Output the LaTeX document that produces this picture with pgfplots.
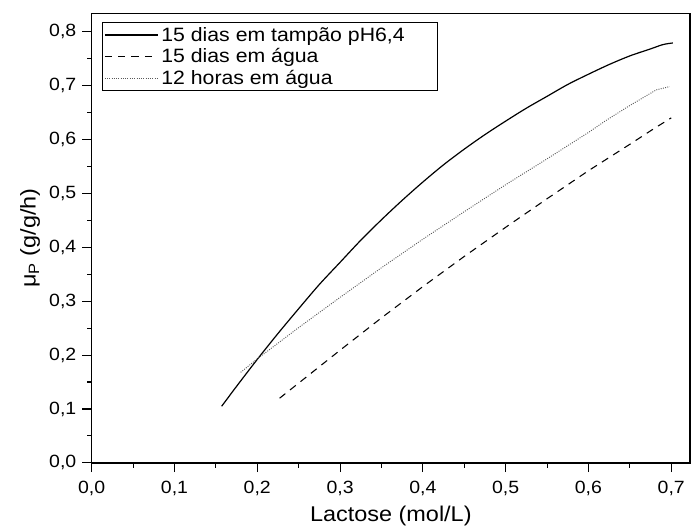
\documentclass[border=0pt]{standalone}
\usepackage{pgfplots}
\pgfplotsset{compat=1.18}
\usepackage{fontspec}
\setmainfont{Liberation Sans}[FakeStretch=1.1]
\begin{document}
\begin{tikzpicture}
\begin{axis}[
  scale only axis,
  width=449pt, height=337.4pt,
  xmin=0, xmax=0.7226, ymin=0, ymax=0.834,
  xtick={0,0.1,...,0.7}, ytick={0,0.1,...,0.8},
  minor x tick num=1, minor y tick num=1,
  xtick pos=left, ytick pos=left, tick align=outside,
  major tick length=7pt, minor tick length=3.5pt,
  tick style={black, line width=0.8pt},
  axis line style={line width=1pt},
  /pgf/number format/.cd, use comma, fixed, fixed zerofill, precision=1, assume math mode=true,
  /pgfplots/.cd,
  ticklabel style={font=\fontsize{13.3}{16}\selectfont},
  xticklabel style={yshift=-3pt},
  yticklabel style={xshift=-1pt},
  xlabel={Lactose (mol/L)}, ylabel={μ\textsubscript{P} (g/g/h)},
  label style={font=\fontsize{16}{19}\selectfont},
  xlabel style={yshift=-1pt},
  legend style={at={(0.0167,0.981)}, anchor=north west, draw=black, line width=0.8pt, inner sep=1.5pt, row sep=0pt, cells={anchor=west}, font=\fontsize{14.5}{17}\selectfont},
  legend image code/.code={\draw[#1] (0pt,0pt) -- (40pt,0pt);},
]
\addplot[black, line width=0.9pt, smooth] coordinates {
(0.157,0.105) (0.175,0.142) (0.2,0.192) (0.225,0.240) (0.25,0.286) (0.275,0.331) (0.3,0.372) (0.325,0.413) (0.35,0.451) (0.375,0.487) (0.4,0.521) (0.425,0.553) (0.45,0.582) (0.475,0.609) (0.5,0.634) (0.525,0.658) (0.55,0.680) (0.575,0.702) (0.6,0.721) (0.625,0.739) (0.65,0.755) (0.675,0.768) (0.69,0.776) (0.702,0.779)};
\addlegendentry{15 dias em tampão pH6,4\rule{21pt}{0pt}}
\addplot[black, line width=0.8pt, dash pattern=on 5.5pt off 4.5pt] coordinates {
(0.227,0.120) (0.25,0.148) (0.3,0.209) (0.35,0.269) (0.4,0.327) (0.45,0.383) (0.5,0.437) (0.55,0.490) (0.6,0.542) (0.65,0.591) (0.68,0.621) (0.7,0.640)};
\addlegendentry{15 dias em água}
\addplot[black!65, line width=0.7pt, densely dotted] coordinates {
(0.180,0.168) (0.2,0.193) (0.25,0.251) (0.3,0.307) (0.35,0.362) (0.4,0.415) (0.45,0.466) (0.5,0.516) (0.55,0.564) (0.6,0.613) (0.622,0.636) (0.65,0.663) (0.682,0.692) (0.698,0.698)};
\addlegendentry{12 horas em água}
\end{axis}
\path ([xshift=-68.8pt,yshift=-51pt]current axis.south west) rectangle ([xshift=0.8pt,yshift=10pt]current axis.north east);
\end{tikzpicture}
\end{document}
